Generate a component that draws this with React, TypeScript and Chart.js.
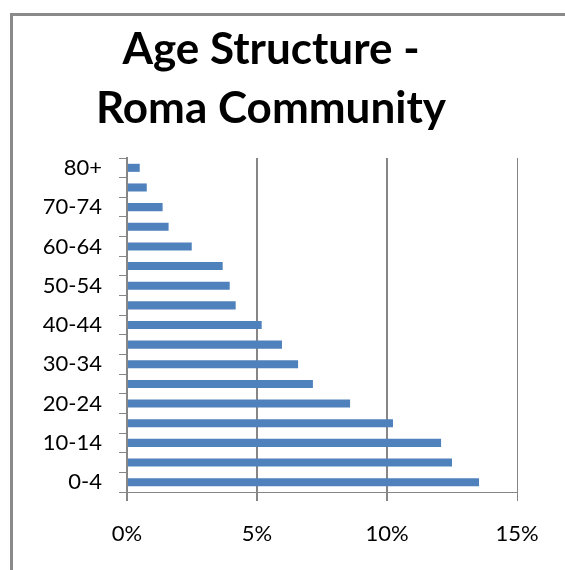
import React, { useEffect, useRef } from 'react';
import { Chart, registerables } from 'chart.js';

Chart.register(...registerables);

const categories = ['0-4', '5-9', '10-14', '15-19', '20-24', '25-29', '30-34', '35-39', '40-44', '45-49', '50-54', '55-59', '60-64', '65-69', '70-74', '75-79', '80+'];
const shares = [13.54, 12.5, 12.08, 10.23, 8.58, 7.15, 6.58, 5.96, 5.18, 4.18, 3.95, 3.68, 2.49, 1.6, 1.37, 0.76, 0.49];
const xTickValues = [0, 5, 10, 15];
const titleLines = ['Age Structure -', 'Roma Community'];

const GRAY = '#868686';
const FONT = 'Lato';

export default function App() {
  const ref = useRef<HTMLCanvasElement>(null);

  useEffect(() => {
    const chart = new Chart(ref.current as HTMLCanvasElement, {
      type: 'bar',
      data: {
        labels: categories,
        datasets: [
          {
            data: shares,
            backgroundColor: '#4F81BD',
            borderWidth: 0,
            barPercentage: 0.41,
            categoryPercentage: 1,
          },
        ],
      },
      options: {
        indexAxis: 'y',
        animation: false,
        responsive: false,
        events: [],
        layout: { padding: { top: 158, right: 48, bottom: 0, left: 0 } },
        plugins: {
          legend: { display: false },
          tooltip: { enabled: false },
          title: { display: false },
        },
        scales: {
          x: {
            type: 'linear',
            min: 0,
            max: 15,
            afterBuildTicks: (s: any) => {
              s.ticks = xTickValues.map((v) => ({ value: v }));
            },
            afterFit: (s: any) => {
              s.height = 78;
            },
            grid: {
              color: GRAY,
              lineWidth: (ctx: any) => (ctx.tick && ctx.tick.value === 15 ? 1 : 2),
              tickLength: 9,
            },
            border: { color: GRAY, width: 1 },
            ticks: {
              callback: (v: any) => v + '%',
              font: { family: FONT, size: 22 },
              color: '#000',
              padding: 20,
              maxRotation: 0,
            },
          },
          y: {
            reverse: true,
            afterFit: (s: any) => {
              s.width = 127;
            },
            grid: {
              drawOnChartArea: false,
              color: GRAY,
              tickLength: 8,
              offset: true,
            },
            border: { color: GRAY, width: 2 },
            ticks: {
              autoSkip: false,
              callback: (_v: any, i: number) => (i % 2 === 0 ? categories[i] : ''),
              font: { family: FONT, size: 22 },
              color: '#000',
              padding: 17,
            },
          },
        },
      } as any,
    });
    return () => chart.destroy();
  }, []);

  return (
    <div
      style={{
        position: 'absolute',
        left: 0,
        top: 0,
        width: 565,
        height: 570,
        overflow: 'hidden',
        background: '#fff',
      }}
    >
      <div
        style={{
          position: 'absolute',
          left: 10,
          top: 13,
          width: 700,
          height: 700,
          borderLeft: '3px solid #8a8a8a',
          borderTop: '3px solid #8a8a8a',
        }}
      />
      <canvas
        ref={ref}
        width={565}
        height={570}
        style={{ position: 'absolute', left: 0, top: 0, width: 565, height: 570 }}
      />
      {titleLines.map((line, i) => (
        <div
          key={i}
          style={{
            position: 'absolute',
            left: 21,
            width: 500,
            top: i === 0 ? 21 : 80,
            textAlign: 'center',
            fontFamily: FONT,
            fontWeight: 700,
            fontSize: 44,
            lineHeight: 1.2,
            color: '#000',
            whiteSpace: 'nowrap',
          }}
        >
          {line}
        </div>
      ))}
    </div>
  );
}
